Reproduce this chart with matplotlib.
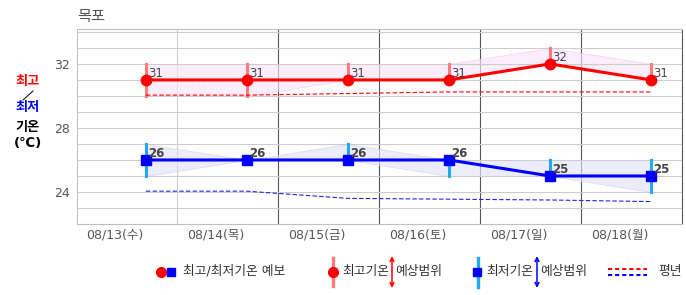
import matplotlib
matplotlib.use('Agg')
import matplotlib.pyplot as plt
import numpy as np

plt.rcParams['font.family'] = ['DejaVu Sans', 'Noto Sans CJK KR']

# data
dates = ['08/13(수)', '08/14(목)', '08/15(금)', '08/16(토)', '08/17(일)', '08/18(월)']
tmax = [31, 31, 31, 31, 32, 31]
tmax_lo = [30, 30, 31, 31, 32, 31]
tmax_hi = [32, 32, 32, 32, 33, 32]
tmin = [26, 26, 26, 26, 25, 25]
tmin_lo = [25, 26, 26, 25, 25, 24]
tmin_hi = [27, 26, 27, 26, 26, 26]
norm_max = [30.05, 30.05, 30.15, 30.25, 30.25, 30.25]
norm_min = [24.05, 24.05, 23.6, 23.55, 23.5, 23.4]
yticks = [24, 28, 32]

RED = '#ff0000'
BLUE = '#0000ff'
RED_RANGE = '#ff7a7a'
BLUE_RANGE = '#22aaee'

W, H = 686, 295
fig = plt.figure(figsize=(W / 100, H / 100), dpi=100)
ax = fig.add_axes([77 / W, 1 - 224 / H, (682 - 77) / W, (224 - 28.7) / H])
x = np.arange(len(dates))
ax.set_xlim(-0.683, 5.307)
ax.set_ylim(22, 34.2)

# grid
ax.set_yticks(yticks)
ax.set_yticks(np.arange(23, 35), minor=True)
ax.grid(which='both', axis='y', color='#cccccc', lw=0.8, zorder=0)
ax.tick_params(axis='y', which='both', length=0, pad=5, labelsize=9, labelcolor='#555555')
for k in range(5):
    ax.axvline(k + 0.307, color='#cccccc' if k == 0 else '#555555', lw=0.8, zorder=0.5)
ax.set_xticks(x - 0.31)
ax.set_xticklabels(dates)
ax.tick_params(axis='x', length=0, pad=3, labelsize=9, labelcolor='#555555')
for s in ['left', 'bottom', 'top']:
    ax.spines[s].set_color('#c0c0c0')
    ax.spines[s].set_linewidth(0.8)
ax.spines['right'].set_color('#555555')
ax.spines['right'].set_linewidth(0.8)

# ranges
ax.fill_between(x, tmax_lo, tmax_hi, facecolor='#f9e4f9', alpha=0.65,
                edgecolor='#f0c8f0', lw=0.6, zorder=1)
ax.fill_between(x, tmin_lo, tmin_hi, facecolor='#e3e3fa', alpha=0.65,
                edgecolor='#d0d0f0', lw=0.6, zorder=1)
ax.vlines(x, tmax_lo, tmax_hi, color=RED_RANGE, lw=2.2, capstyle='projecting', zorder=2)
ax.vlines(x, tmin_lo, tmin_hi, color=BLUE_RANGE, lw=2.2, capstyle='projecting', zorder=2)

# normals
ax.plot(x, norm_max, color=RED, lw=0.8, dashes=(4, 2), zorder=2)
ax.plot(x, norm_min, color='#2222dd', lw=0.8, dashes=(4, 2), zorder=2)

# forecasts
ax.plot(x, tmax, color=RED, lw=2.2, marker='o', ms=7.5, zorder=3)
ax.plot(x, tmin, color=BLUE, lw=2.2, marker='s', ms=7, zorder=3)
for xi, v in zip(x, tmax):
    ax.annotate(str(v), (xi, v), xytext=(1.5, 2.2), textcoords='offset points',
                ha='left', va='baseline', fontsize=8.5, color='#444444', zorder=4)
for xi, v in zip(x, tmin):
    ax.annotate(str(v), (xi, v), xytext=(1.5, 2.2), textcoords='offset points',
                ha='left', va='baseline', fontsize=8.5, color='#444444',
                fontweight='bold', zorder=4)

# overlay in pixel coordinates for title, axis caption and legend
ov = fig.add_axes([0, 0, 1, 1], zorder=5)
ov.set_xlim(0, W)
ov.set_ylim(H, 0)
ov.axis('off')
ov.patch.set_alpha(0)

ov.text(77, 16.5, '목포', fontsize=11, color='#555555', va='center', ha='left')

ov.text(28, 81, '최고', fontsize=9.5, color=RED, fontweight='bold', ha='center', va='center')
ov.plot([23, 33], [100, 91], color='black', lw=0.7)
ov.text(28, 108, '최저', fontsize=9.5, color=BLUE, fontweight='bold', ha='center', va='center')
ov.text(28, 127, '기온', fontsize=9.5, color='black', fontweight='bold', ha='center', va='center')
ov.text(28, 143, '(℃)', fontsize=9.5, color='black', fontweight='bold', ha='center', va='center')

ly = 271.5
lfs = 9.2
tc = '#333333'
ov.plot(161, ly, 'o', color=RED, ms=7)
ov.plot(171, ly, 's', color=BLUE, ms=6.3)
ov.text(183, ly, '최고/최저기온 예보', fontsize=lfs, color=tc, va='center')

ov.plot([333, 333], [258, 286], color=RED_RANGE, lw=2.4)
ov.plot(333, ly, 'o', color=RED, ms=7)
ov.text(342, ly, '최고기온', fontsize=lfs, color=tc, va='center')
ov.text(395, ly, '예상범위', fontsize=lfs, color=tc, va='center')
ov.annotate('', xy=(392, 256), xytext=(392, 288),
            arrowprops=dict(arrowstyle='<->', color=RED, lw=1.1,
                            mutation_scale=7, shrinkA=0, shrinkB=0))

ov.plot([478, 478], [258, 287], color=BLUE_RANGE, lw=2.4)
ov.plot(477, ly, 's', color=BLUE, ms=6.3)
ov.text(486, ly, '최저기온', fontsize=lfs, color=tc, va='center')
ov.text(540, ly, '예상범위', fontsize=lfs, color=tc, va='center')
ov.annotate('', xy=(537, 256), xytext=(537, 288),
            arrowprops=dict(arrowstyle='<->', color=BLUE, lw=1.1,
                            mutation_scale=7, shrinkA=0, shrinkB=0))

ov.plot([608, 647], [268.5, 268.5], color=RED, lw=1.5, dashes=(2, 1.4))
ov.plot([608, 647], [274.5, 274.5], color=BLUE, lw=1.5, dashes=(2, 1.4))
ov.text(658, ly, '평년', fontsize=lfs, color=tc, va='center')

fig.savefig('out.png', dpi=100)
